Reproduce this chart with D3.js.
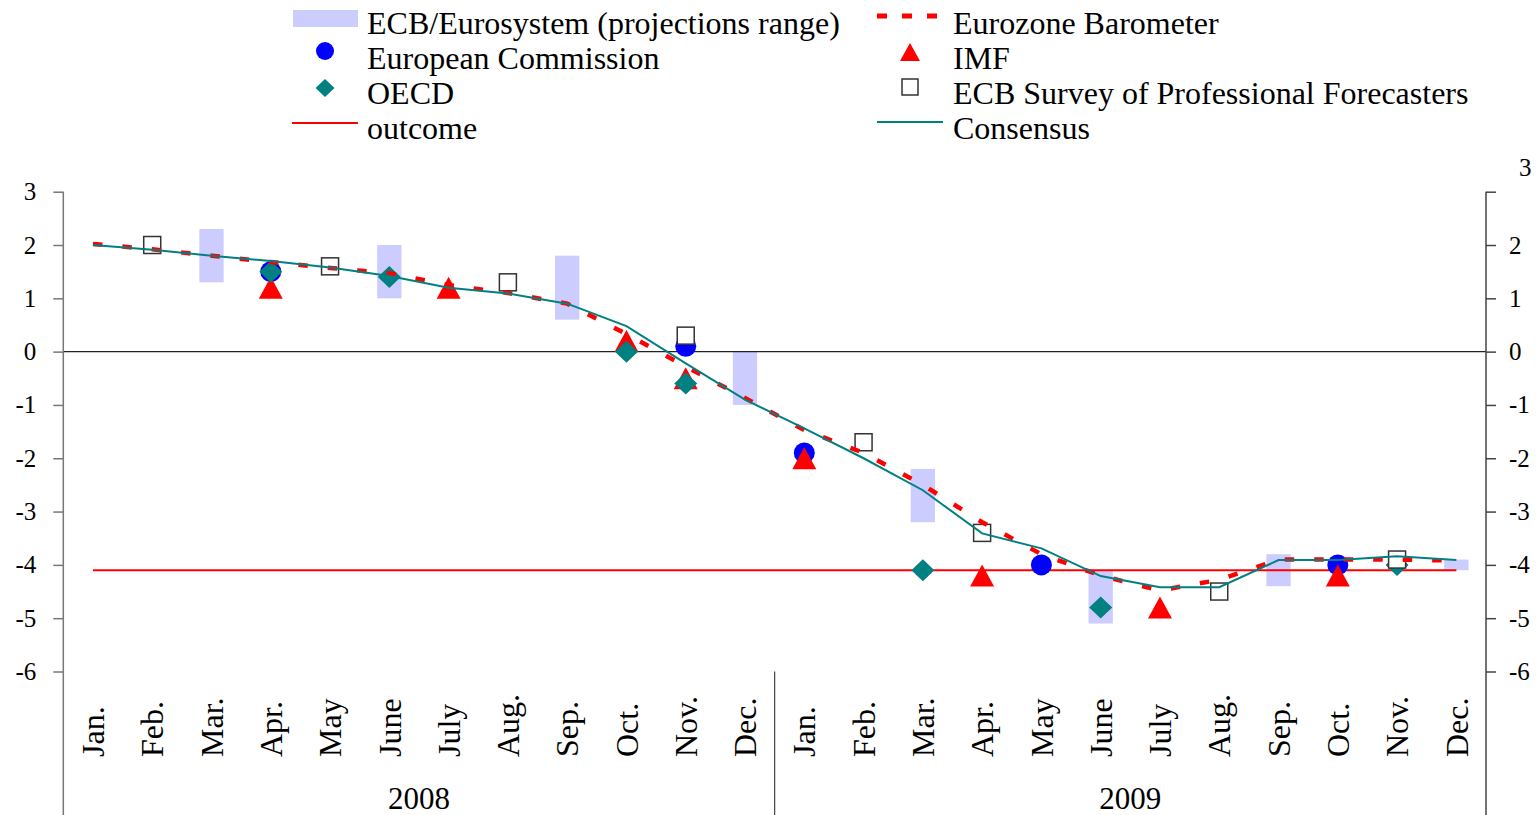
<!DOCTYPE html>
<html>
<head>
<meta charset="utf-8">
<script src="https://cdn.jsdelivr.net/npm/d3@7"></script>
<style>
  html, body { margin: 0; padding: 0; background: #fff; }
  svg { display: block; }
  text { font-family: "Liberation Serif", "Times New Roman", serif; fill: #000; }
</style>
</head>
<body>
<svg id="chart" width="1538" height="815"></svg>
<script>
// ---------------- DATA ----------------
const years = ["2008", "2009"];
const months = ["Jan.", "Feb.", "Mar.", "Apr.", "May", "June", "July", "Aug.", "Sep.", "Oct.", "Nov.", "Dec."];
const yTicks = [3, 2, 1, 0, -1, -2, -3, -4, -5, -6];

// Consensus (monthly)
const consensus = [2.0, 1.91, 1.8, 1.7, 1.58, 1.42, 1.2, 1.09, 0.9, 0.48, -0.22, -0.9,
                   -1.44, -2.0, -2.6, -3.41, -3.69, -4.21, -4.42, -4.42, -3.91, -3.91, -3.84, -3.91];
// Eurozone Barometer (monthly)
const barometer = [2.02, 1.92, 1.8, 1.68, 1.57, 1.47, 1.25, 1.1, 0.9, 0.33, -0.28, -0.87,
                   -1.47, -1.9, -2.5, -3.2, -3.8, -4.2, -4.48, -4.28, -3.9, -3.9, -3.9, -3.92];
// Outcome
const outcome = -4.1;

// ECB/Eurosystem projection ranges: [period, low, high]
const ecbRanges = [
  ["2008 Mar.", 1.3, 2.3], ["2008 June", 1.0, 2.0], ["2008 Sep.", 0.6, 1.8], ["2008 Dec.", -1.0, 0.0],
  ["2009 Mar.", -3.2, -2.2], ["2009 June", -5.1, -4.1], ["2009 Sep.", -4.4, -3.8], ["2009 Dec.", -4.1, -3.9]
];
// European Commission
const commission = [["2008 Apr.", 1.5], ["2008 Nov.", 0.1], ["2009 Jan.", -1.9], ["2009 May", -4.0], ["2009 Oct.", -4.0]];
// IMF
const imf = [["2008 Apr.", 1.2], ["2008 July", 1.2], ["2008 Oct.", 0.2], ["2008 Nov.", -0.5],
             ["2009 Jan.", -2.0], ["2009 Apr.", -4.2], ["2009 July", -4.8], ["2009 Oct.", -4.2]];
// OECD
const oecd = [["2008 Apr.", 1.5], ["2008 June", 1.4], ["2008 Oct.", 0.0], ["2008 Nov.", -0.6],
              ["2009 Mar.", -4.1], ["2009 June", -4.8], ["2009 Nov.", -4.0]];
// ECB Survey of Professional Forecasters
const spf = [["2008 Feb.", 2.0], ["2008 May", 1.6], ["2008 Aug.", 1.3], ["2008 Nov.", 0.3],
             ["2009 Feb.", -1.7], ["2009 Apr.", -3.4], ["2009 Aug.", -4.5], ["2009 Nov.", -3.9]];

// ---------------- LAYOUT ----------------
const periods = years.flatMap(y => months.map(m => y + " " + m));
const plotLeft = 63.3, plotRight = 1486, plotTop = 191.7, plotBottom = 671.5;

const svg = d3.select("#chart");
const x = d3.scaleBand().domain(periods).range([plotLeft, plotRight]).padding(0);
const cx = p => x(p) + x.bandwidth() / 2;
const y = d3.scaleLinear().domain([-6, 3]).range([plotBottom, plotTop]);

const RED = "#ff0000", TEAL = "#008080", BLUE = "#0000ff", LAV = "#ccccff";
const fmt = d => String(d); // plain hyphen-minus as in the reference

// ECB ranges
const barW = x.bandwidth() * 0.41;
svg.append("g").selectAll("rect").data(ecbRanges).join("rect")
  .attr("x", d => cx(d[0]) - barW / 2)
  .attr("y", d => y(d[2]))
  .attr("width", barW)
  .attr("height", d => y(d[1]) - y(d[2]))
  .attr("fill", LAV);

// zero line
svg.append("line")
  .attr("x1", plotLeft).attr("x2", plotRight)
  .attr("y1", y(0)).attr("y2", y(0))
  .attr("stroke", "#222").attr("stroke-width", 1.2);

// outcome line
svg.append("line")
  .attr("x1", cx(periods[0])).attr("x2", cx(periods[periods.length - 1]))
  .attr("y1", y(outcome)).attr("y2", y(outcome))
  .attr("stroke", RED).attr("stroke-width", 2);

// Axes
const leftAxis = d3.axisLeft(y).tickValues(yTicks).tickSize(10).tickPadding(17).tickSizeOuter(0).tickFormat(fmt);
const gL = svg.append("g").attr("transform", `translate(${plotLeft},0)`).call(leftAxis);
gL.select(".domain").remove();
gL.selectAll(".tick line").attr("stroke", "#777").attr("stroke-width", 1.5);
gL.selectAll(".tick text").attr("font-size", 25).attr("font-family", "Liberation Serif, serif").attr("fill", "#000");

const rightAxis = d3.axisRight(y).tickValues(yTicks).tickSize(10).tickPadding(13).tickSizeOuter(0).tickFormat(fmt);
const gR = svg.append("g").attr("transform", `translate(${plotRight},0)`).call(rightAxis);
gR.select(".domain").remove();
gR.selectAll(".tick line").attr("stroke", "#444").attr("stroke-width", 1.5);
gR.selectAll(".tick text").attr("font-size", 25).attr("font-family", "Liberation Serif, serif").attr("fill", "#000");
gR.selectAll(".tick").filter(d => d === 3).select("text").attr("x", 33).attr("y", -24);

// Vertical axis lines (extended down through the category area)
svg.append("line").attr("x1", plotLeft).attr("x2", plotLeft).attr("y1", plotTop).attr("y2", 815)
  .attr("stroke", "#777").attr("stroke-width", 1.5);
svg.append("line").attr("x1", plotRight).attr("x2", plotRight).attr("y1", plotTop).attr("y2", 815)
  .attr("stroke", "#444").attr("stroke-width", 1.5);
// year divider
svg.append("line").attr("x1", x(periods[12])).attr("x2", x(periods[12])).attr("y1", plotBottom).attr("y2", 815)
  .attr("stroke", "#444").attr("stroke-width", 1.2);

// Month labels
svg.append("g").selectAll("text").data(periods).join("text")
  .attr("transform", d => `translate(${cx(d)},757) rotate(-90)`)
  .attr("dy", "0.35em")
  .attr("text-anchor", "start")
  .attr("font-size", 32)
  .text(d => d.split(" ")[1]);

// Year labels
svg.append("g").selectAll("text").data(years).join("text")
  .attr("x", (d, i) => (x(periods[i * 12]) + x(periods[i * 12 + 11]) + x.bandwidth()) / 2)
  .attr("y", 809)
  .attr("text-anchor", "middle")
  .attr("font-size", 31)
  .text(d => d);

// Markers
const triPath = (w, h) => `M0,${-h / 2}L${w / 2},${h / 2}L${-w / 2},${h / 2}Z`;
const diaPath = (w, h) => `M0,${-h / 2}L${w / 2},0L0,${h / 2}L${-w / 2},0Z`;

svg.append("g").selectAll("circle").data(commission).join("circle")
  .attr("cx", d => cx(d[0])).attr("cy", d => y(d[1])).attr("r", 10.5).attr("fill", BLUE);

svg.append("g").selectAll("path").data(imf).join("path")
  .attr("transform", d => `translate(${cx(d[0])},${y(d[1])})`)
  .attr("d", triPath(24, 22)).attr("fill", RED);

svg.append("g").selectAll("path").data(oecd).join("path")
  .attr("transform", d => `translate(${cx(d[0])},${y(d[1])})`)
  .attr("d", diaPath(23, 22)).attr("fill", TEAL);

svg.append("g").selectAll("rect").data(spf).join("rect")
  .attr("x", d => cx(d[0]) - 8.5).attr("y", d => y(d[1]) - 8.5)
  .attr("width", 17).attr("height", 17)
  .attr("fill", "#fff").attr("stroke", "#333").attr("stroke-width", 1.5);

// Lines
const lineGen = d3.line().x((d, i) => cx(periods[i])).y(d => y(d));
svg.append("path").datum(barometer).attr("d", lineGen)
  .attr("fill", "none").attr("stroke", RED).attr("stroke-width", 4.5).attr("stroke-dasharray", "9.5,20");
svg.append("path").datum(consensus).attr("d", lineGen)
  .attr("fill", "none").attr("stroke", TEAL).attr("stroke-width", 2);

// ---------------- LEGEND ----------------
const lg = svg.append("g").attr("font-size", 32);
const rows = [34, 69, 104, 139];
// left column
lg.append("rect").attr("x", 293).attr("y", 10).attr("width", 65).attr("height", 17).attr("fill", LAV);
lg.append("circle").attr("cx", 325).attr("cy", 51).attr("r", 9).attr("fill", BLUE);
lg.append("path").attr("transform", "translate(325,88)").attr("d", diaPath(19, 18)).attr("fill", TEAL);
lg.append("line").attr("x1", 292).attr("x2", 358).attr("y1", 123).attr("y2", 123).attr("stroke", RED).attr("stroke-width", 2);
["ECB/Eurosystem (projections range)", "European Commission", "OECD", "outcome"].forEach((t, i) =>
  lg.append("text").attr("x", 367).attr("y", rows[i]).text(t));
// right column
lg.append("line").attr("x1", 877).attr("x2", 943).attr("y1", 16).attr("y2", 16)
  .attr("stroke", RED).attr("stroke-width", 5).attr("stroke-dasharray", "10,15");
lg.append("path").attr("transform", "translate(910,52)").attr("d", triPath(20, 18)).attr("fill", RED);
lg.append("rect").attr("x", 902).attr("y", 79).attr("width", 16).attr("height", 16)
  .attr("fill", "#fff").attr("stroke", "#333").attr("stroke-width", 1.5);
lg.append("line").attr("x1", 877).attr("x2", 943).attr("y1", 122).attr("y2", 122).attr("stroke", TEAL).attr("stroke-width", 2);
["Eurozone Barometer", "IMF", "ECB Survey of Professional Forecasters", "Consensus"].forEach((t, i) =>
  lg.append("text").attr("x", 953).attr("y", rows[i]).text(t));
</script>
</body>
</html>
